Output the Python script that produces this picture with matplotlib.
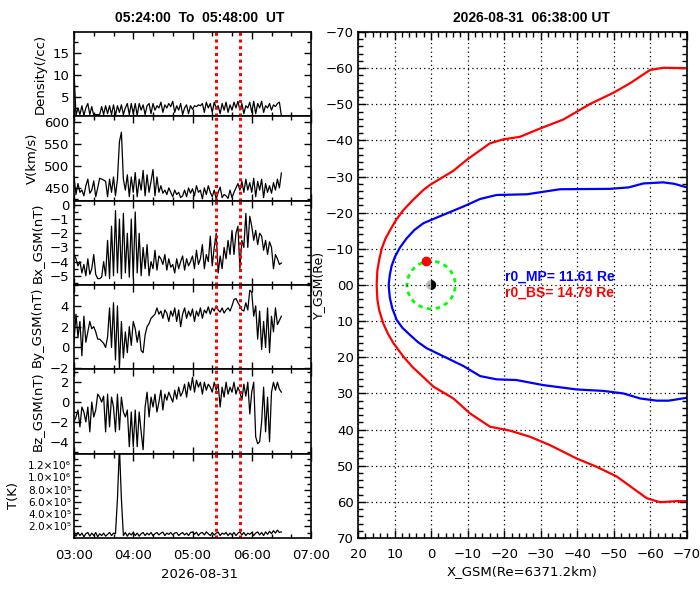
import numpy as np
import matplotlib
matplotlib.use('Agg')
import matplotlib.pyplot as plt
from matplotlib.patches import Wedge, Circle
from matplotlib.ticker import FixedLocator, MultipleLocator, AutoMinorLocator

plt.rcParams['font.family'] = ['DejaVu Sans']

# ---------------- data: solar wind time series (2-min samples from 03:00) -------------
start_hour = 3.0
step_min = 2.0

density = [11.0, 0.8, 2.5, 1.0, 3.0, 0.8, 2.5, 3.5, 1.0, 2.8,
           0.8, 1.0, 1.0, 1.0, 2.8, 1.0, 3.0, 1.2, 3.0, 1.0,
           3.2, 0.8, 3.0, 1.5, 3.2, 1.0, 2.5, 3.5, 1.0, 3.5,
           1.2, 3.5, 0.8, 3.5, 2.0, 3.2, 1.0, 3.0, 3.5, 1.2,
           3.5, 2.0, 3.0, 2.5, 3.8, 1.5, 3.2, 2.5, 3.5, 2.8,
           4.0, 1.5, 3.0, 2.0, 3.5, 1.0, 2.5, 3.2, 1.2, 3.0,
           2.2, 3.0, 2.8, 3.2, 3.0, 3.5, 1.5, 3.8, 2.5, 3.5,
           1.5, 3.8, 2.5, 3.0, 1.2, 3.5, 2.0, 3.8, 1.5, 3.2,
           2.0, 3.8, 2.5, 4.0, 2.0, 3.5, 1.2, 3.0, 2.5, 3.8,
           1.5, 4.0, 1.2, 3.5, 2.5, 4.0, 1.5, 3.0, 2.5, 3.5,
           2.0, 3.2, 2.8, 3.5, 3.8, 0.7]

speed = [476, 435, 460, 440, 445, 432, 455, 470, 438, 445,
         466, 430, 450, 472, 470, 468, 465, 430, 470, 440,
         475, 432, 470, 555, 577, 470, 445, 480, 430, 475,
         440, 485, 430, 470, 445, 490, 432, 480, 440, 465,
         492, 432, 475, 440, 455, 438, 445, 435, 450, 440,
         430, 445, 435, 440, 428, 432, 445, 430, 450, 438,
         448, 432, 455, 440, 445, 425, 450, 435, 455, 440,
         430, 445, 425, 440, 452, 428, 435, 432, 426, 445,
         428, 440, 450, 460, 445, 465, 440, 470, 445, 462,
         440, 472, 430, 465, 445, 470, 428, 460, 440, 455,
         438, 462, 445, 470, 450, 484]

bx = [-3.5, -3.8, -4.3, -4.0, -4.8, -4.2, -5.0, -3.8, -4.9, -4.5,
      -3.5, -4.9, -5.2, -5.2, -5.1, -4.0, -5.0, -2.5, -5.2, -1.5,
      -5.0, -0.4, -4.8, -1.0, -5.2, -0.6, -4.8, -2.0, -5.1, -1.0,
      -5.2, -0.5, -4.8, -2.0, -5.0, -3.0, -4.5, -2.8, -5.0, -4.0,
      -4.5, -3.2, -4.6, -3.6, -3.8, -4.2, -3.5, -4.6, -3.8, -4.4,
      -4.2, -4.8, -3.8, -4.5, -4.0, -3.6, -4.6, -3.8, -4.3, -4.0,
      -3.6, -4.5, -3.2, -4.2, -3.8, -2.8, -4.5, -3.5, -4.0, -2.2,
      -4.3, -3.0, -2.0, -4.8, -3.6, -4.5, -3.0, -3.8, -2.5, -3.5,
      -1.8, -3.5, -2.0, -1.5, -4.5, -2.5, -3.0, -0.6, -3.0, -0.8,
      -1.5, -2.5, -1.8, -2.8, -2.0, -2.2, -3.2, -2.5, -3.5, -2.6,
      -3.0, -4.5, -3.5, -3.8, -4.2, -4.1]

by = [0.5, 3.2, 1.0, 2.5, -0.8, 3.0, 0.5, 1.5, 2.5, 1.8,
      2.0, 1.5, 0.8, 0.8, 0.6, 0.4, 0.0, 1.0, 3.8, 0.0,
      4.3, -1.2, 4.0, -2.0, 2.5, -1.0, 1.5, -0.5, 2.0, 0.2,
      2.5, 1.8, 0.5, 1.6, -0.3, -0.5, 1.2, 2.0, 2.3, 2.8,
      3.0, 3.2, 3.8, 3.2, 3.5, 2.8, 3.6, 3.3, 2.5, 3.5,
      3.0, 3.8, 2.5, 3.6, 2.0, 3.2, 3.8, 2.8, 3.5, 3.0,
      3.7, 2.5, 3.5, 3.0, 3.8, 2.8, 3.6, 3.3, 3.9, 3.2,
      3.8, 3.5, 4.0, 3.6, 3.4, 3.8, 3.3, 3.6, 3.8, 3.5,
      4.0, 4.6, 4.7, 4.3, 4.0, 3.6, 3.5, 4.3, 3.6, 5.5,
      5.3, 3.0, 4.0, 0.8, 3.5, -0.2, 2.5, 0.0, 3.8, -0.5,
      3.0, 1.5, 3.8, 2.2, 2.6, 3.0]

bz = [-2.0, -1.5, -0.8, -2.5, -0.5, -1.0, -2.0, -0.5, -3.0, 0.0,
      -1.5, -0.8, 0.8, 0.5, 0.0, 0.6, -3.0, 0.8, -2.5, 0.5,
      -0.5, -3.0, 0.8, -2.8, 0.5, -1.0, -1.5, -0.8, -4.5, -1.0,
      -4.5, -0.8, -4.5, -1.0, -3.0, -4.8, -0.5, 1.0, -1.5, 0.5,
      -0.5, 0.8, -1.0, 0.0, 1.2, -0.8, 0.8, 0.2, 1.0, 0.5,
      0.0, 1.2, 0.3, 1.5, 0.6, 1.0, 1.8, 0.5, 2.0, 1.2,
      2.5, 1.0, 2.2, 1.5, 2.0, 0.8, 2.0, 1.2, 1.8, 1.5,
      1.0, 2.0, 1.2, 1.8, -0.5, 1.5, 0.5, 2.0, 0.8, 1.5,
      1.0, 2.0, 0.8, 1.5, 1.0, 0.2, 1.8, 0.6, 2.0, -1.2,
      1.0, 2.0, -3.5, -4.2, -4.0, -2.0, 1.5, -3.0, 0.5, -4.0,
      1.0, 2.0, 1.2, 2.0, 1.3, 1.0]

temp = [9e4, 4e4, 1.0e5, 5e4, 9e4, 3e4, 8e4, 1.0e5, 4e4, 9e4,
        5e4, 1.0e5, 3e4, 8e4, 5e4, 9e4, 4e4, 7e4, 1.0e5, 5e4,
        9e4, 8e4, 6.5e5, 1.5e6, 6.5e5, 5e4, 1.0e5, 4e4, 9e4, 6e4,
        1.0e5, 5e4, 9e4, 4e4, 8e4, 1.0e5, 5e4, 9e4, 6e4, 1.0e5,
        5e4, 8e4, 1.0e5, 6e4, 9e4, 1.05e5, 5e4, 9e4, 7e4, 1.0e5,
        6e4, 9e4, 1.0e5, 5e4, 8e4, 1.0e5, 6e4, 9e4, 5e4, 1.0e5,
        1.1e5, 7e4, 1.05e5, 5e4, 9e4, 1.0e5, 6e4, 1.1e5, 8e4, 5e4,
        1.0e5, 6e4, 9e4, 1.05e5, 5e4, 9e4, 7e4, 1.0e5, 5e4, 9e4,
        6e4, 1.0e5, 5e4, 9e4, 1.1e5, 6e4, 1.0e5, 5e4, 9e4, 7e4,
        1.0e5, 5e4, 9e4, 1.1e5, 6e4, 1.0e5, 5e4, 1.1e5, 7e4, 1.2e5,
        8e4, 1.3e5, 9e4, 1.4e5, 1.0e5, 1.1e5]

sel_start = 5.4   # 05:24
sel_end = 5.8     # 05:48

time_ticks = [3, 4, 5, 6, 7]
time_tick_labels = ['03:00', '04:00', '05:00', '06:00', '07:00']

panel_labels = ['Density(/cc)', 'V(km/s)', 'Bx_GSM(nT)', 'By_GSM(nT)', 'Bz_GSM(nT)', 'T(K)']
panel_ticks = [[5, 10, 15],
               [450, 500, 550, 600],
               [-5, -4, -3, -2, -1, 0],
               [-2, 0, 2, 4],
               [-4, -2, 0, 2],
               [2e5, 4e5, 6e5, 8e5, 1.0e6, 1.2e6]]
panel_tick_labels = [['5', '10', '15'],
                     ['450', '500', '550', '600'],
                     ['\u22125', '\u22124', '\u22123', '\u22122', '\u22121', '0'],
                     ['\u22122', '0', '2', '4'],
                     ['\u22124', '\u22122', '0', '2'],
                     ['2.0\u00d710\u2075', '4.0\u00d710\u2075', '6.0\u00d710\u2075',
                      '8.0\u00d710\u2075', '1.0\u00d710\u2076', '1.2\u00d710\u2076']]

# ---------------- data: magnetopause / bow shock in GSM --------------------------
bs_x = [-70, -63.5, -59.9, -54.4, -49.9, -43.5, -36.2, -29.8, -24.3, -19.8, -16.1,
        -9.7, -6.1, 0.3, 2.1, 5.0, 7.6, 9.6, 11.2, 12.5, 13.5, 14.2, 14.7, 14.9,
        14.7, 14.2, 13.1, 11.8, 10.3, 7.6, 5.0, 2.1, -0.6, -6.1, -10.6, -16.1, -21.6, -27.1,
        -32.5, -39.8, -45.3, -50.8, -55.3, -59.0, -62.6, -67.2, -70]
bs_y = [-60.0, -60.1, -59.5, -55.8, -53.2, -50.1, -45.8, -43.3, -41.0, -40.3, -39.2,
        -34.6, -31.6, -27.7, -26.3, -23.5, -20.7, -18.0, -15.2, -12.8, -10.1, -7.0, -4.0, 0.0,
        4.0, 7.0, 10.6, 13.5, 16.1, 19.8, 22.8, 25.5, 28.1, 31.4, 35.5, 39.2, 40.3, 42.0,
        44.3, 48.0, 50.3, 53.0, 56.3, 59.0, 60.1, 59.8, 59.8]

mp_x = [-70, -66.5, -63.5, -58.1, -54.0, -48.9, -35.3, -26.2, -17.9, -13.4, -8.8,
        -3.3, 2.1, 4.6, 6.7, 8.5, 9.9, 10.8, 11.3, 11.61,
        11.3, 10.6, 9.4, 7.8, 5.8, 3.6, 1.2, -3.3, -8.8, -13.4, -17.9, -23.4, -30.7, -39.8,
        -47.1, -52.6, -57.2, -61.7, -65.0, -70]
mp_y = [-27.0, -28.0, -28.4, -28.1, -27.0, -26.6, -26.5, -25.1, -24.9, -23.8, -21.7,
        -19.4, -17.1, -15.2, -12.9, -10.4, -7.8, -5.3, -2.8, 0.0,
        3.5, 6.5, 9.7, 11.9, 13.8, 15.8, 17.5, 19.7, 22.4, 25.2, 26.1, 26.3, 27.7, 28.9,
        29.3, 30.0, 31.4, 32.0, 32.0, 31.2]

sc_x, sc_y = 1.4, -6.6
orbit_r = 6.6
r0_mp = 11.61
r0_bs = 14.79

gsm_x_ticks = [20, 10, 0, -10, -20, -30, -40, -50, -60, -70]
gsm_x_labels = ['20', '10', '0', '\u221210', '\u221220', '\u221230', '\u221240',
                '\u221250', '\u221260', '\u221270']
gsm_y_ticks = [-70, -60, -50, -40, -30, -20, -10, 0, 10, 20, 30, 40, 50, 60, 70]
gsm_y_labels = ['\u221270', '\u221260', '\u221250', '\u221240', '\u221230', '\u221220',
                '\u221210', '00', '10', '20', '30', '40', '50', '60', '70']

# ---------------- figure ------------------------------------------------------
W, H = 700, 600
fig = plt.figure(figsize=(7, 6), dpi=100)

def fx(px):
    return px / W

def fy(py):
    return 1 - py / H

left_l, left_r = 74, 311
top, bottom = 32, 538
n_pan = 6
ph = (bottom - top) / n_pan

series = [density, speed, bx, by, bz, temp]
ylims = [(0.6, 19.7), (421, 613), (-5.65, 0.3), (-2.1, 6.0), (-5.2, 3.3), (1e4, 1.39e6)]

n = len(density)
t = start_hour + np.arange(n) * step_min / 60.0

tick_fs = 9.5
for i in range(n_pan):
    y_top = top + i * ph
    ax = fig.add_axes([fx(left_l), fy(y_top + ph), fx(left_r - left_l), ph / H])
    ax.plot(t, series[i], color='black', lw=0.9)
    ax.set_xlim(3, 7)
    ax.set_ylim(*ylims[i])
    ax.axvline(sel_start, color='red', lw=2.2, ls=(0, (1, 1.2)))
    ax.axvline(sel_end, color='red', lw=2.2, ls=(0, (1, 1.2)))
    ax.xaxis.set_major_locator(FixedLocator(time_ticks))
    ax.xaxis.set_minor_locator(MultipleLocator(1 / 3))
    ax.yaxis.set_major_locator(FixedLocator(panel_ticks[i]))
    ax.yaxis.set_minor_locator(AutoMinorLocator(2))
    is_t = (i == n_pan - 1)
    ax.set_yticklabels(panel_tick_labels[i], fontsize=(7.6 if is_t else tick_fs))
    if is_t:
        ax.set_xticklabels(time_tick_labels, fontsize=tick_fs)
        ax.tick_params(axis='x', which='major', pad=8)
        ax.tick_params(axis='y', which='major', pad=2)
    else:
        ax.set_xticklabels([])
    ax.tick_params(which='both', direction='in', top=True, right=True, width=1.0)
    ax.tick_params(which='major', length=5)
    ax.tick_params(which='minor', length=3)
    ax.set_ylabel(panel_labels[i], fontsize=tick_fs, labelpad=(6 if is_t else 4))
    for s in ax.spines.values():
        s.set_linewidth(1.2)

fig.text(fx(199.5), fy(574), '2026-08-31', ha='center', va='center', fontsize=tick_fs)
fig.text(fx(200), fy(18), '05:24:00  To  05:48:00  UT', ha='center', va='center',
         fontsize=10, fontweight='bold', family='Liberation Sans')

# ---------------- right panel --------------------------------------------------
rl, rr = 358, 687
axr = fig.add_axes([fx(rl), fy(bottom), fx(rr - rl), (bottom - top) / H])
axr.set_xlim(20, -70)
axr.set_ylim(70, -70)
axr.xaxis.set_major_locator(FixedLocator(gsm_x_ticks))
axr.yaxis.set_major_locator(FixedLocator(gsm_y_ticks))
axr.set_xticklabels(gsm_x_labels, fontsize=tick_fs)
axr.set_yticklabels(gsm_y_labels, fontsize=tick_fs)
axr.xaxis.set_minor_locator(MultipleLocator(2))
axr.yaxis.set_minor_locator(MultipleLocator(2))
axr.tick_params(which='both', direction='in', top=True, right=True, width=1.0)
axr.tick_params(which='major', length=6)
axr.tick_params(axis='x', which='major', pad=7)
axr.tick_params(axis='y', which='major', pad=3)
axr.tick_params(which='minor', length=3.5)
axr.grid(True, which='major', color='black', lw=0.9, ls=(0, (1, 2.5)))
for s in axr.spines.values():
    s.set_linewidth(1.2)

axr.plot(bs_x, bs_y, color='red', lw=1.6)
axr.plot(mp_x, mp_y, color='blue', lw=1.6)
axr.add_patch(Circle((0, 0), orbit_r, fill=False, ec='#00ff00', lw=2.0, ls=(0, (1.6, 1.6))))
axr.add_patch(Wedge((0, 0), 1.4, -90, 90, color='#bbbbbb', lw=0))
axr.add_patch(Wedge((0, 0), 1.4, 90, 270, color='black', lw=0))
axr.plot([sc_x], [sc_y], 'o', color='red', ms=6, mec='red')

axr.text(-20.2, -2.3, 'r0_MP= %.2f Re' % r0_mp, color='blue', fontsize=10,
         fontweight='bold', family='Liberation Sans', va='center', ha='left')
axr.text(-20.2, 2.0, 'r0_BS= %.2f Re' % r0_bs, color='red', fontsize=10,
         fontweight='bold', family='Liberation Sans', va='center', ha='left')

fig.text(fx(318.5), fy(285), 'Y_GSM(Re)', rotation=90, ha='center', va='center', fontsize=9)
fig.text(fx(522), fy(572), 'X_GSM(Re=6371.2km)', ha='center', va='center', fontsize=tick_fs)
fig.text(fx(531), fy(18), '2026-08-31  06:38:00 UT', ha='center', va='center',
         fontsize=10, fontweight='bold', family='Liberation Sans')

fig.savefig('out.png', dpi=100)
